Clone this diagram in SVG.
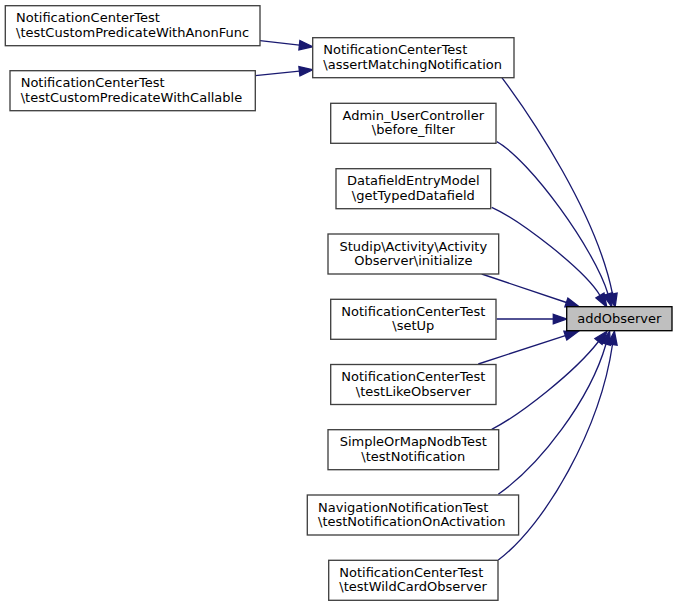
<svg xmlns="http://www.w3.org/2000/svg" width="677" height="607" viewBox="0 0 677 607">
<style>
  .box { fill: #ffffff; stroke: #404040; stroke-width: 1.33; }
  .sel { fill: #bfbfbf; stroke: #000000; stroke-width: 1.33; }
  text { font-family: "DejaVu Sans", "Liberation Sans", sans-serif; font-size: 13px; fill: #000000; }
  .m { text-anchor: middle; }
  .s { text-anchor: start; }
  .edge { fill: none; stroke: #191970; stroke-width: 1.33; }
  .head { fill: #191970; stroke: #191970; stroke-width: 1.33; }
</style>
<rect width="677" height="607" fill="#ffffff"/>
<g id="edges">
  <path class="edge" d="M260,40.7 L299.4,45.2"/>
  <polygon class="head" points="299.9,40.6 312.7,46.7 298.9,49.8"/>
  <path class="edge" d="M255.3,75.7 L299.4,71.1"/>
  <polygon class="head" points="299.9,75.8 312.7,69.8 298.9,66.5"/>
  <path class="edge" d="M501.7,77.3 C532,118 597,215 612.5,294"/>
  <polygon class="head" points="607.9,294.9 615.1,307.1 617.1,293.1"/>
  <path class="edge" d="M496.7,141.7 C530,160 595,250 608,294"/>
  <polygon class="head" points="603.5,295.3 611.7,306.8 612.5,292.7"/>
  <path class="edge" d="M491.7,207.3 C520,220 585,270 600,295.5"/>
  <polygon class="head" points="596,297.9 606.8,307 604,293.1"/>
  <path class="edge" d="M481.7,274 L566.4,302.5"/>
  <polygon class="head" points="564.9,306.9 579,306.7 567.9,298.1"/>
  <path class="edge" d="M496.7,319 L553.3,319"/>
  <polygon class="head" points="553.3,314.3 566.7,319 553.3,323.7"/>
  <path class="edge" d="M478.3,364 L565.3,335.6"/>
  <polygon class="head" points="566.8,340 578,331.5 563.9,331.2"/>
  <path class="edge" d="M491.7,429.3 C520,415 575,372 598.5,341.5"/>
  <polygon class="head" points="602.1,344.5 607,331.2 594.9,338.5"/>
  <path class="edge" d="M498.3,494.3 C540,465 590,400 606,344"/>
  <polygon class="head" points="610.5,345.3 609.6,331.2 601.5,342.7"/>
  <path class="edge" d="M498.3,560 C545,525 600,430 612.5,344.5"/>
  <polygon class="head" points="617.1,345.2 614.4,331.3 607.9,343.8"/>
</g>
<g id="node-anonfunc">
  <rect class="box" x="5.3" y="5.7" width="254.7" height="40"/>
  <text class="s" x="16" y="22.2">NotificationCenterTest</text>
  <text class="s" x="16" y="36.8">\testCustomPredicateWithAnonFunc</text>
</g>
<g id="node-callable">
  <rect class="box" x="10" y="70.7" width="245.3" height="40"/>
  <text class="s" x="20.7" y="87.2">NotificationCenterTest</text>
  <text class="s" x="20.7" y="101.8">\testCustomPredicateWithCallable</text>
</g>
<g id="node-assert">
  <rect class="box" x="312.7" y="37.7" width="201.3" height="40"/>
  <text class="s" x="323.3" y="54.2">NotificationCenterTest</text>
  <text class="s" x="323.3" y="68.8">\assertMatchingNotification</text>
</g>
<g id="node-admin">
  <rect class="box" x="330.7" y="103.3" width="165.3" height="40"/>
  <text class="m" x="413.3" y="119.8">Admin_UserController</text>
  <text class="m" x="413.3" y="134.4">\before_filter</text>
</g>
<g id="node-datafield">
  <rect class="box" x="336" y="168.7" width="154.7" height="40"/>
  <text class="m" x="413.3" y="185.2">DatafieldEntryModel</text>
  <text class="m" x="413.3" y="199.8">\getTypedDatafield</text>
</g>
<g id="node-studip">
  <rect class="box" x="328" y="234" width="170.7" height="40"/>
  <text class="m" x="413.3" y="250.5">Studip\Activity\Activity</text>
  <text class="m" x="413.3" y="265.1">Observer\initialize</text>
</g>
<g id="node-setup">
  <rect class="box" x="330.7" y="299.3" width="165.3" height="40"/>
  <text class="m" x="413.3" y="315.8">NotificationCenterTest</text>
  <text class="m" x="413.3" y="330.4">\setUp</text>
</g>
<g id="node-addobserver">
  <rect class="sel" x="566.7" y="306.7" width="105.3" height="24"/>
  <text class="m" x="619.3" y="322.7">addObserver</text>
</g>
<g id="node-likeobserver">
  <rect class="box" x="330.7" y="364.5" width="165.3" height="40"/>
  <text class="m" x="413.3" y="381">NotificationCenterTest</text>
  <text class="m" x="413.3" y="395.6">\testLikeObserver</text>
</g>
<g id="node-simpleormap">
  <rect class="box" x="328" y="429.7" width="170.7" height="40"/>
  <text class="m" x="413.3" y="446.2">SimpleOrMapNodbTest</text>
  <text class="m" x="413.3" y="460.8">\testNotification</text>
</g>
<g id="node-navigation">
  <rect class="box" x="307.3" y="495" width="211.3" height="40"/>
  <text class="s" x="318" y="511.5">NavigationNotificationTest</text>
  <text class="s" x="318" y="526.1">\testNotificationOnActivation</text>
</g>
<g id="node-wildcard">
  <rect class="box" x="328.7" y="560.3" width="169.3" height="40"/>
  <text class="s" x="339.3" y="576.8">NotificationCenterTest</text>
  <text class="s" x="339.3" y="591.4">\testWildCardObserver</text>
</g>
</svg>
